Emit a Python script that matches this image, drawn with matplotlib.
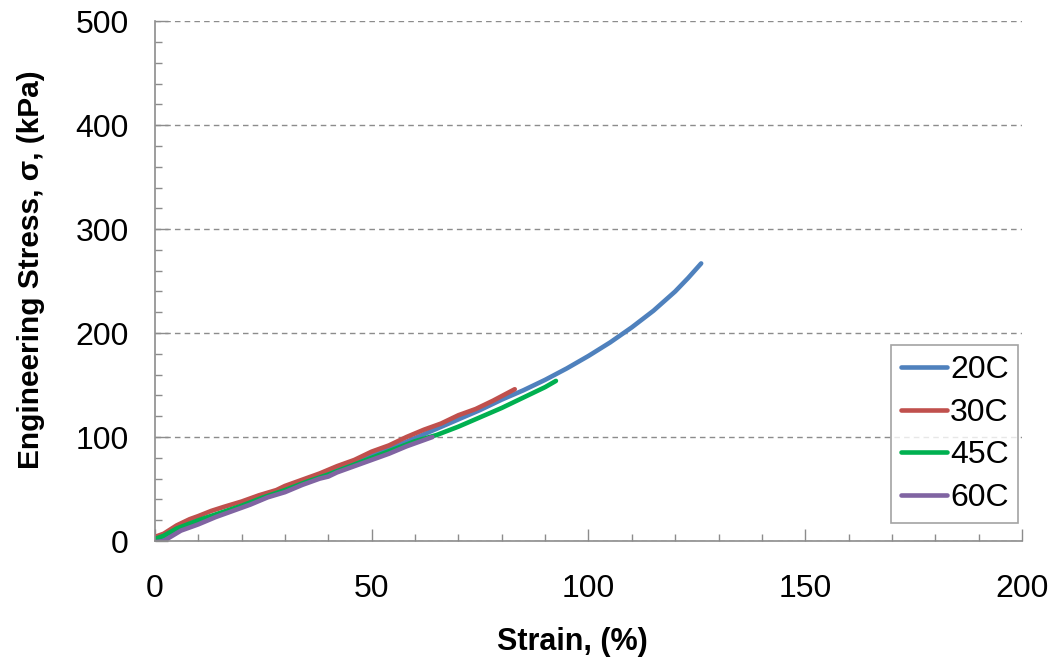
import matplotlib
matplotlib.use("Agg")
import matplotlib.pyplot as plt
from matplotlib.ticker import MultipleLocator

plt.rcParams['font.family'] = ['Liberation Sans', 'DejaVu Sans']

labels = ["20C", "30C", "45C", "60C"]
colors = ["#4F81BD", "#C0504D", "#00B050", "#8064A2"]

strain_20 = [0, 2, 5, 10, 15, 20, 25, 30, 35, 40, 45, 50, 55, 60, 65, 70, 75, 80, 85, 90, 95, 100, 105, 110, 115, 120, 123, 126]
stress_20 = [1, 4, 10, 18, 26, 33, 41, 49, 57, 65, 73, 82, 90, 99, 108, 117, 126, 136, 145, 155, 166, 178, 191, 205.5, 221.5, 240, 253, 267]

strain_30 = [0, 2, 5, 8, 10, 13, 16, 20, 24, 28, 30, 34, 38, 42, 46, 50, 54, 58, 62, 66, 70, 74, 78, 83]
stress_30 = [4, 7, 15, 21, 24, 29, 33, 38, 44, 49, 53, 59, 65, 72, 78, 86, 92, 100, 107, 113, 121, 127, 135, 146]

strain_45 = [0, 2, 5, 10, 15, 20, 25, 30, 35, 40, 45, 50, 55, 60, 65, 70, 75, 80, 85, 90, 92.5]
stress_45 = [2, 5, 12, 20, 27, 34, 42, 49, 57, 64, 72, 80, 88, 96, 102, 110, 119, 128, 138, 148, 154]

strain_60 = [0, 2, 4, 6, 10, 14, 18, 22, 26, 30, 34, 38, 40, 42, 44, 46, 50, 54, 58, 62, 64]
stress_60 = [-1, 0, 5, 10, 16, 23, 29, 35, 42, 47, 54, 60, 62, 66, 69, 72, 78, 84, 91, 97, 100]

series = [(strain_20, stress_20), (strain_30, stress_30), (strain_45, stress_45), (strain_60, stress_60)]

fig = plt.figure(figsize=(10.54, 6.61), dpi=100)
ax = fig.add_axes([0.147, 0.1815, 0.8226, 0.7865])

for (x, y), lab, c in zip(series, labels, colors):
    ax.plot(x, y, color=c, lw=3.3, label=lab, solid_capstyle='round', solid_joinstyle='round')

ax.set_xlim(0, 200)
ax.set_ylim(0, 500)
ax.xaxis.set_major_locator(MultipleLocator(50))
ax.xaxis.set_minor_locator(MultipleLocator(10))
ax.yaxis.set_major_locator(MultipleLocator(100))
ax.yaxis.set_minor_locator(MultipleLocator(20))

ax.grid(axis='y', which='major', color='#8c8c8c', linestyle=(0, (4, 3)), lw=1.0)
ax.set_axisbelow(True)

for s in ['top', 'right']:
    ax.spines[s].set_visible(False)
for s in ['left', 'bottom']:
    ax.spines[s].set_color('#8c8c8c')
    ax.spines[s].set_linewidth(1.2)

ax.tick_params(which='both', direction='in', color='#8c8c8c', width=1.0)
ax.tick_params(which='major', length=9, labelsize=23)
ax.tick_params(which='minor', length=5)
ax.tick_params(axis='y', which='major', pad=19)
ax.tick_params(axis='x', which='major', pad=24)

ax.set_xlabel("Strain, (%)", fontsize=22, fontweight='bold')
ax.set_ylabel("Engineering Stress, σ, (kPa)", fontsize=21.5, fontweight='bold')
ax.xaxis.set_label_coords(0.481, -0.165)
ax.yaxis.set_label_coords(-0.127, 0.521)

leg = ax.legend(loc='lower right', bbox_to_anchor=(0.996, 0.035), fontsize=23, frameon=True,
                fancybox=False, edgecolor='#8c8c8c', handlelength=1.45, handletextpad=0.1,
                borderpad=0.3, labelspacing=0.4, borderaxespad=0)
leg.get_frame().set_linewidth(1.2)

fig.savefig("out.png", dpi=100)
